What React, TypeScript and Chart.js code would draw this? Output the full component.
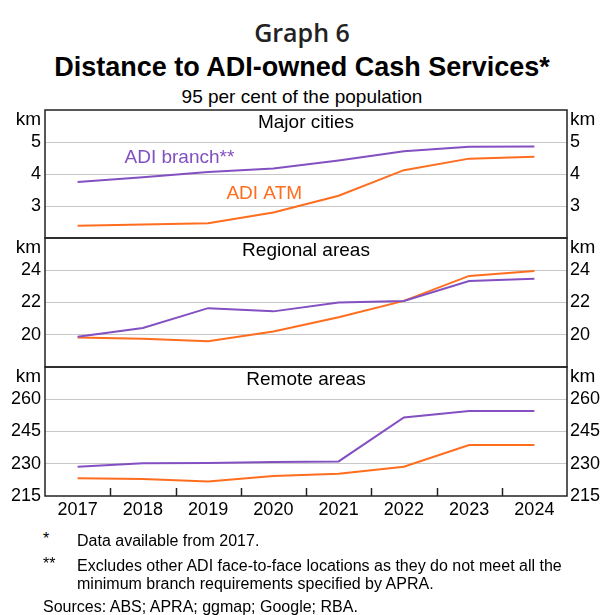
import React, { useEffect, useRef } from 'react';
import { Chart, registerables } from 'chart.js';

Chart.register(...registerables);

const years = ['2017', '2018', '2019', '2020', '2021', '2022', '2023', '2024'];

const majorBranch = [3.75, 3.9, 4.06, 4.17, 4.42, 4.71, 4.85, 4.86];
const majorAtm = [2.38, 2.42, 2.46, 2.8, 3.32, 4.12, 4.48, 4.54];

const regionalBranch = [19.88, 20.42, 21.65, 21.45, 22.0, 22.1, 23.33, 23.48];
const regionalAtm = [19.83, 19.75, 19.6, 20.2, 21.08, 22.1, 23.65, 23.96];

const remoteBranch = [228.6, 230.2, 230.3, 230.8, 231.1, 251.5, 254.5, 254.5];
const remoteAtm = [223.2, 222.9, 221.8, 224.3, 225.4, 228.6, 238.7, 238.7];

const majorTicks = [2, 3, 4, 5, 6];
const regionalTicks = [18, 20, 22, 24, 26];
const remoteTicks = [215, 230, 245, 260, 275];

const PURPLE = '#8350c2';
const ORANGE = '#ff6d1f';
const FONT = '"Liberation Sans", Arial, Helvetica, sans-serif';

type Annot = { text: string; x: number; y: number; color: string };

type PanelProps = {
  title: string;
  branch: number[];
  atm: number[];
  ticks: number[];
  hideBottom: boolean;
  showX: boolean;
  annotations: Annot[];
  top: number;
  areaHeight: number;
};

const LEFT_W = 45;
const RIGHT_W = 37;
const PAD = 4;
const X_H = 34;

function Panel(p: PanelProps) {
  const ref = useRef<HTMLCanvasElement | null>(null);
  useEffect(() => {
    const canvas = ref.current;
    if (!canvas) return;
    const min = p.ticks[0];
    const max = p.ticks[p.ticks.length - 1];
    const step = p.ticks[1] - p.ticks[0];
    const hidden = (v: number) => v === max || (p.hideBottom && v === min);
    const gridColor = (ctx: any) => {
      const v = ctx.tick ? ctx.tick.value : null;
      if (v === min || v === max) return 'rgba(0,0,0,0)';
      return '#c8c8c8';
    };
    const zeroPad = (s: any) => {
      s.paddingTop = 0;
      s.paddingBottom = 0;
      s.paddingLeft = 0;
      s.paddingRight = 0;
    };
    const yCommon = (position: 'left' | 'right', width: number, padding: number) => ({
      type: 'linear' as const,
      position,
      min,
      max,
      afterFit: (s: any) => {
        s.width = width;
        zeroPad(s);
      },
      afterBuildTicks: (s: any) => {
        s.ticks = p.ticks.map((v) => ({ value: v }));
      },
      grid: {
        display: position === 'left',
        drawTicks: false,
        color: gridColor,
        lineWidth: 1,
      },
      border: { display: false },
      ticks: {
        stepSize: step,
        autoSkip: false,
        padding,
        color: '#000',
        font: { family: FONT, size: 18 },
        callback: (v: any) => (hidden(Number(v)) ? '' : String(v)),
      },
    });

    const deco = {
      id: 'deco',
      afterDraw(chart: any) {
        const { ctx, chartArea: a } = chart;
        ctx.save();
        ctx.fillStyle = '#000';
        ctx.font = `19px ${FONT}`;
        ctx.textBaseline = 'middle';
        ctx.textAlign = 'center';
        ctx.fillText(p.title, (a.left + a.right) / 2, a.top + 13);
        ctx.textAlign = 'right';
        ctx.fillText('km', a.left - 4, a.top + 10);
        ctx.textAlign = 'left';
        ctx.fillText('km', a.right + 3, a.top + 10);
        const xs = chart.scales.x;
        const ys = chart.scales.yL;
        ctx.textAlign = 'center';
        for (const an of p.annotations) {
          ctx.fillStyle = an.color;
          ctx.fillText(an.text, xs.getPixelForValue(an.x), ys.getPixelForValue(an.y));
        }
        ctx.strokeStyle = '#222';
        ctx.lineWidth = 1.5;
        if (p.showX) {
          for (let i = 1; i < years.length; i++) {
            const px = Math.round((xs.getPixelForValue(i - 1) + xs.getPixelForValue(i)) / 2) + 0.5;
            ctx.beginPath();
            ctx.moveTo(px, a.bottom);
            ctx.lineTo(px, a.bottom - 8);
            ctx.stroke();
          }
        }
        ctx.strokeRect(a.left, a.top, a.right - a.left, a.bottom - a.top);
        ctx.restore();
      },
    };

    const chart = new Chart(canvas, {
      type: 'line',
      data: {
        labels: years,
        datasets: [
          {
            label: 'ADI branch**',
            data: p.branch,
            borderColor: PURPLE,
            backgroundColor: PURPLE,
            borderWidth: 2,
            pointRadius: 0,
            tension: 0,
            yAxisID: 'yL',
          },
          {
            label: 'ADI ATM',
            data: p.atm,
            borderColor: ORANGE,
            backgroundColor: ORANGE,
            borderWidth: 2,
            pointRadius: 0,
            tension: 0,
            yAxisID: 'yL',
          },
        ],
      },
      options: {
        animation: false,
        responsive: false,
        maintainAspectRatio: false,
        devicePixelRatio: 1,
        layout: { padding: { top: PAD, bottom: p.showX ? 0 : PAD, left: 0, right: 0 } },
        plugins: {
          legend: { display: false },
          tooltip: { enabled: false },
          title: { display: false },
        },
        scales: {
          x: {
            type: 'category',
            offset: true,
            display: p.showX,
            afterFit: (s: any) => {
              s.height = p.showX ? X_H : 0;
              zeroPad(s);
            },
            grid: { display: false, drawTicks: false },
            border: { display: false },
            ticks: {
              autoSkip: false,
              maxRotation: 0,
              padding: 3,
              color: '#000',
              font: { family: FONT, size: 18 },
            },
          },
          yL: yCommon('left', LEFT_W, 4) as any,
          yR: yCommon('right', RIGHT_W, 3) as any,
        },
      },
      plugins: [deco],
    });
    return () => chart.destroy();
  }, []);

  const h = PAD + p.areaHeight + (p.showX ? X_H : PAD);
  return (
    <canvas
      ref={ref}
      width={604}
      height={h}
      style={{ position: 'absolute', left: 0, top: p.top - PAD, width: 604, height: h }}
    />
  );
}

export default function App() {
  useEffect(() => {
    document.body.style.margin = '0';
  }, []);
  const txt: React.CSSProperties = {
    position: 'absolute',
    left: 0,
    width: 604,
    textAlign: 'center',
    lineHeight: 1,
    color: '#000',
    fontFamily: FONT,
    whiteSpace: 'nowrap',
  };
  const foot: React.CSSProperties = {
    position: 'absolute',
    fontFamily: FONT,
    fontSize: 16,
    lineHeight: 1,
    color: '#000',
    whiteSpace: 'nowrap',
  };
  return (
    <div style={{ position: 'relative', width: 604, height: 615, background: '#fff', overflow: 'hidden' }}>
      <div style={{ ...txt, top: 20, fontSize: 25, fontWeight: 600, fontFamily: '"Open Sans", sans-serif', color: '#222' }}>
        Graph 6
      </div>
      <div style={{ ...txt, top: 54, fontSize: 27, fontWeight: 700 }}>Distance to ADI-owned Cash Services*</div>
      <div style={{ ...txt, top: 87, fontSize: 19 }}>95 per cent of the population</div>

      <Panel
        title="Major cities"
        branch={majorBranch}
        atm={majorAtm}
        ticks={majorTicks}
        hideBottom={true}
        showX={false}
        annotations={[
          { text: 'ADI branch**', x: 1.56, y: 4.5, color: PURPLE },
          { text: 'ADI ATM', x: 2.86, y: 3.375, color: ORANGE },
        ]}
        top={110}
        areaHeight={128}
      />
      <Panel
        title="Regional areas"
        branch={regionalBranch}
        atm={regionalAtm}
        ticks={regionalTicks}
        hideBottom={true}
        showX={false}
        annotations={[]}
        top={238}
        areaHeight={129}
      />
      <Panel
        title="Remote areas"
        branch={remoteBranch}
        atm={remoteAtm}
        ticks={remoteTicks}
        hideBottom={false}
        showX={true}
        annotations={[]}
        top={367}
        areaHeight={129}
      />

      <div style={{ ...foot, left: 43, top: 531 }}>*</div>
      <div style={{ ...foot, left: 77, top: 533 }}>Data available from 2017.</div>
      <div style={{ ...foot, left: 43, top: 556 }}>**</div>
      <div style={{ ...foot, left: 77, top: 558 }}>Excludes other ADI face-to-face locations as they do not meet all the</div>
      <div style={{ ...foot, left: 77, top: 576 }}>minimum branch requirements specified by APRA.</div>
      <div style={{ ...foot, left: 43, top: 599 }}>Sources: ABS; APRA; ggmap; Google; RBA.</div>
    </div>
  );
}
